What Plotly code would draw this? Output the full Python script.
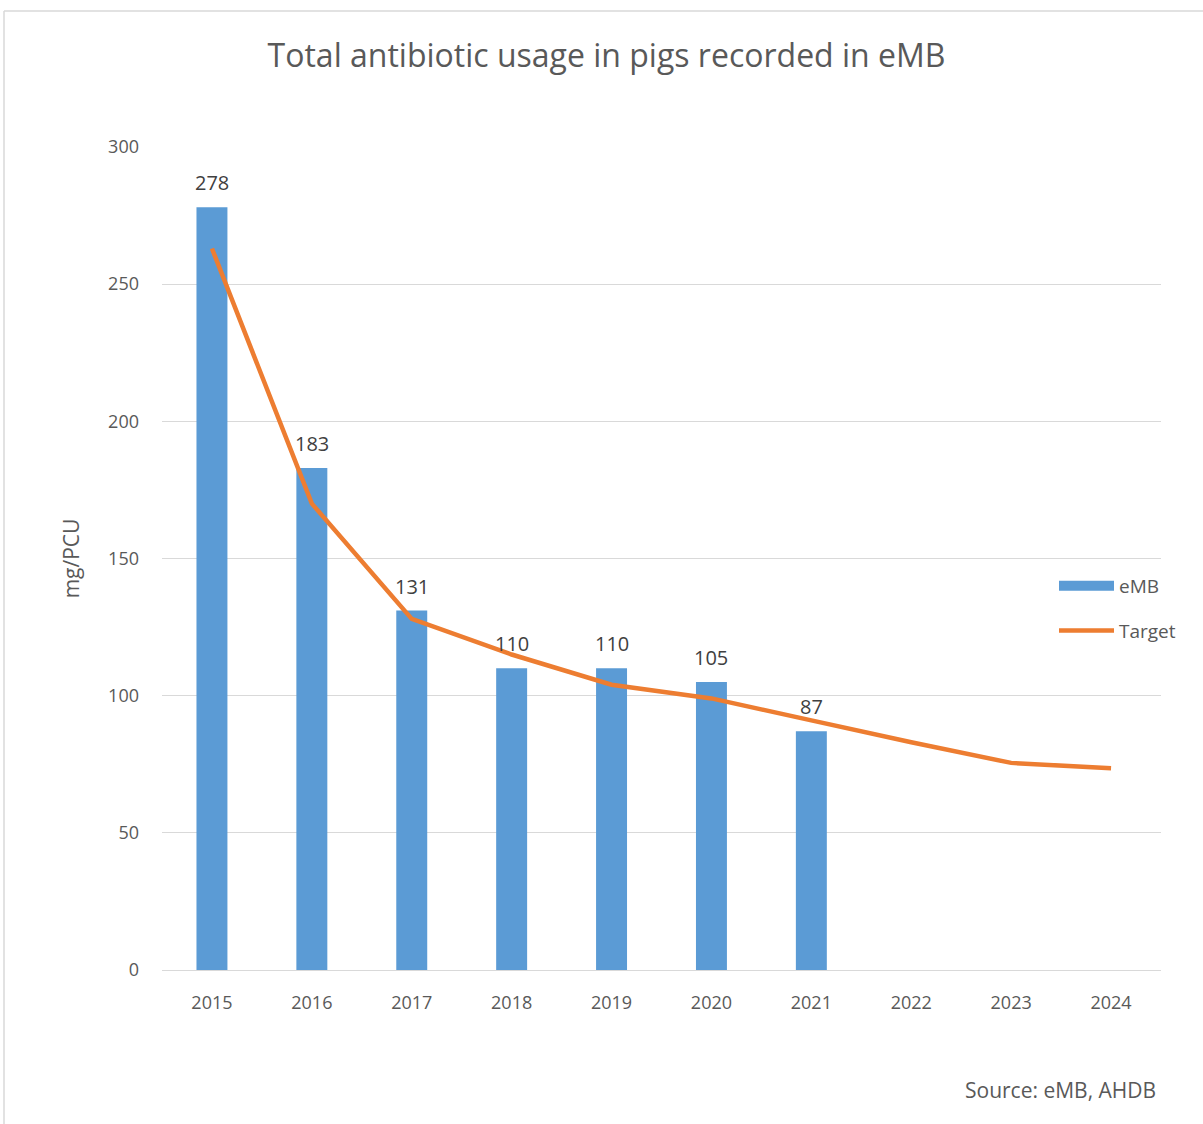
import plotly.graph_objects as go

years = ["2015", "2016", "2017", "2018", "2019", "2020", "2021", "2022", "2023", "2024"]
emb_years = ["2015", "2016", "2017", "2018", "2019", "2020", "2021"]
emb_values = [278, 183, 131, 110, 110, 105, 87]
target_values = [263, 170, 128, 115, 104, 99, 91, 83, 75.5, 73.5]
y_ticks = [0, 50, 100, 150, 200, 250, 300]

FONT = "Open Sans"
TXT = "#595959"
BLUE = "#5B9BD5"
ORANGE = "#ED7D31"

fig = go.Figure()
fig.add_trace(go.Bar(
    x=emb_years, y=emb_values, name="eMB", showlegend=False,
    marker=dict(color=BLUE, line=dict(width=0)),
    width=0.31,
))
# legend proxy for the bar series (wide rectangle swatch)
fig.add_trace(go.Scatter(
    x=[None], y=[None], name="eMB", mode="lines", legendgroup="a",
    line=dict(color=BLUE, width=13),
))
fig.add_trace(go.Scatter(
    x=years, y=target_values, name="Target", mode="lines", legendgroup="b",
    line=dict(color=ORANGE, width=4.5),
))

L, R, T, B = 162, 42, 147, 154
W, H = 1203, 1124
pw, ph = W - L - R, H - T - B

def px_x(x):
    return (x - L) / pw

def px_y(y):
    return (H - B - y) / ph

annotations = [
    dict(x=years.index(yr), y=v, xref="x", yref="y", text=str(v), showarrow=False,
         yanchor="bottom", yshift=9, font=dict(size=20, color="#404040"))
    for yr, v in zip(emb_years, emb_values)
]
annotations.append(
    dict(text="Source: eMB, AHDB", xref="paper", yref="paper",
         x=px_x(1158), y=px_y(1090), xanchor="right", yanchor="middle",
         showarrow=False, font=dict(size=21, color=TXT)))

fig.update_layout(
    width=W, height=H,
    margin=dict(l=L, r=R, t=T, b=B, autoexpand=False),
    paper_bgcolor="white", plot_bgcolor="white",
    font=dict(family=FONT, color=TXT, size=18),
    title=dict(text="Total antibiotic usage in pigs recorded in eMB",
               x=(263 + 950) / 2 / W, xref="container", xanchor="center",
               y=1 - 56 / H, yanchor="middle", yref="container",
               font=dict(size=32, color=TXT, family=FONT)),
    showlegend=True,
    legend=dict(x=px_x(1054), y=px_y(567), xanchor="left", yanchor="top",
                font=dict(size=19, color=TXT), bgcolor="rgba(0,0,0,0)",
                tracegroupgap=17, itemwidth=55, traceorder="grouped"),
    xaxis=dict(type="category", categoryorder="array", categoryarray=years,
               range=[-0.5, 9.5], showgrid=False, showline=True,
               linecolor="#d9d9d9", linewidth=1, ticks="",
               tickfont=dict(size=18, color=TXT), ticklabelstandoff=16),
    yaxis=dict(range=[0, 300], tickvals=y_ticks, showgrid=True,
               gridcolor="#d9d9d9", gridwidth=1, zeroline=False,
               showline=False, ticks="", ticklabelstandoff=22,
               tickfont=dict(size=18, color=TXT),
               title=dict(text="mg/PCU", font=dict(size=21, color=TXT), standoff=22)),
    shapes=[
        dict(type="line", xref="paper", yref="paper",
             x0=px_x(4), x1=px_x(4), y0=px_y(11), y1=px_y(1130),
             line=dict(color="#d9d9d9", width=1.5)),
        dict(type="line", xref="paper", yref="paper",
             x0=px_x(4), x1=px_x(1210), y0=px_y(11), y1=px_y(11),
             line=dict(color="#d9d9d9", width=1.5)),
    ],
    annotations=annotations,
)

fig.write_html("out.html")
